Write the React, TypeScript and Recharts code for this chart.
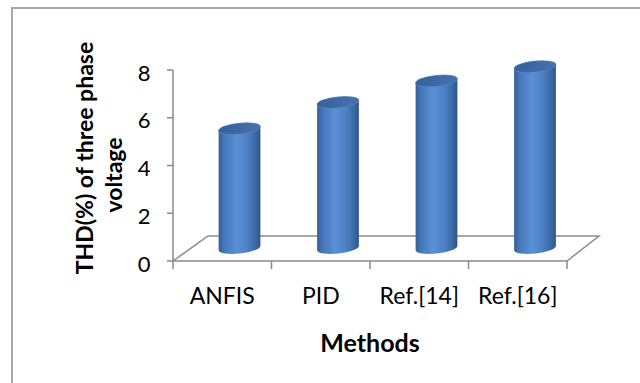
import React from 'react'
import { BarChart, Bar, XAxis, YAxis, ReferenceArea, Label } from 'recharts'

const methods = ['ANFIS', 'PID', 'Ref.[14]', 'Ref.[16]']
const thdValues = [5.0, 6.1, 7.0, 7.6]
const yTicks = [0, 2, 4, 6, 8]

const data = methods.map((name, i) => ({ name, thd: thdValues[i] }))

const FONT = 'Lato, "Open Sans", sans-serif'
const GRAY = '#8a8a8a'

// fake 3D: the floor's back edge sits up and to the right of the x axis
const FLOOR_DX_LEFT = 35
const FLOOR_DX_RIGHT = 32
const FLOOR_DY = 25
// cylinders stand half way into the floor
const BAR_DX = 17.5
const BAR_DY = 13
const CAP_RY = 5.5
const TILT = -6

function Cylinder(props: any) {
  const { x, y, width, height, index } = props
  if (width == null || height == null) return null
  const rx = width / 2
  const cx = x + rx + BAR_DX
  const top = y - BAR_DY
  const bottom = y + height - BAR_DY
  const t = (TILT * Math.PI) / 180
  const ex = rx * Math.cos(t)
  const ey = -rx * Math.sin(t)
  const id = `cyl-body-${index}`
  const capId = `cyl-cap-${index}`
  const body = [
    `M ${cx - ex} ${top + ey}`,
    `L ${cx - ex} ${bottom + ey}`,
    `A ${rx} ${CAP_RY} ${TILT} 0 0 ${cx + ex} ${bottom - ey}`,
    `L ${cx + ex} ${top - ey}`,
    `A ${rx} ${CAP_RY} ${TILT} 0 0 ${cx - ex} ${top + ey}`,
    'Z',
  ].join(' ')
  return (
    <g>
      <defs>
        <linearGradient id={id} x1="0" y1="0" x2="1" y2="0">
          <stop offset="0%" stopColor="#345e99" />
          <stop offset="12%" stopColor="#4475b7" />
          <stop offset="42%" stopColor="#5a90d8" />
          <stop offset="68%" stopColor="#4d81c5" />
          <stop offset="90%" stopColor="#3a679f" />
          <stop offset="100%" stopColor="#2e5587" />
        </linearGradient>
        <linearGradient id={capId} x1="0" y1="0" x2="1" y2="0">
          <stop offset="0%" stopColor="#35609a" />
          <stop offset="100%" stopColor="#4673ae" />
        </linearGradient>
      </defs>
      <path d={body} fill={`url(#${id})`} />
      <ellipse
        cx={cx}
        cy={top}
        rx={rx}
        ry={CAP_RY}
        transform={`rotate(${TILT} ${cx} ${top})`}
        fill={`url(#${capId})`}
        stroke="#5b86c0"
        strokeWidth={0.6}
      />
    </g>
  )
}

function Floor(props: any) {
  const { x, y, width, height } = props
  const y0 = y + height
  const pts = [
    [x, y0],
    [x + FLOOR_DX_LEFT, y0 - FLOOR_DY],
    [x + width + FLOOR_DX_RIGHT, y0 - FLOOR_DY],
    [x + width, y0],
  ]
  return <polyline points={pts.map(p => p.join(',')).join(' ')} fill="none" stroke={GRAY} strokeWidth={1.5} />
}

function XTick(props: any) {
  const { x, y, payload, index, visibleTicksCount, width } = props
  const half = payload?.offset ?? (width && visibleTicksCount ? width / visibleTicksCount / 2 : 49)
  const last = index === visibleTicksCount - 1
  return (
    <g>
      <line x1={x - half} y1={y} x2={x - half} y2={y + 8} stroke={GRAY} strokeWidth={1.5} />
      {last && <line x1={x + half} y1={y} x2={x + half} y2={y + 8} stroke={GRAY} strokeWidth={1.5} />}
      <text x={x} y={y + 43} textAnchor="middle" fontFamily={FONT} fontSize={23} fill="#000">
        {payload.value}
      </text>
    </g>
  )
}

function YTick(props: any) {
  const { x, y, payload } = props
  return (
    <text x={x - 16.5} y={y + 10.5} textAnchor="end" fontFamily={FONT} fontSize={22} fill="#000">
      {payload.value}
    </text>
  )
}

function YTitle(props: any) {
  const vb = props.viewBox || { x: 113, y: 70, width: 60, height: 191 }
  const mid = vb.y + vb.height / 2
  const b1 = vb.x - 20
  const b2 = vb.x + 8.7
  const c1 = mid - 7.5
  const c2 = mid + 9.5
  return (
    <g fontFamily={FONT} fontSize={23} fontWeight="bold" fill="#000">
      <text x={b1} y={c1} textAnchor="middle" transform={`rotate(-90 ${b1} ${c1})`}>
        THD(%) of three phase
      </text>
      <text x={b2} y={c2} textAnchor="middle" transform={`rotate(-90 ${b2} ${c2})`}>
        voltage
      </text>
    </g>
  )
}

function XTitle(props: any) {
  const vb = props.viewBox || { x: 173, y: 261, width: 394, height: 60 }
  return (
    <text x={vb.x + vb.width / 2} y={vb.y + 91} textAnchor="middle" fontFamily={FONT} fontSize={25} fontWeight="bold" fill="#000">
      Methods
    </text>
  )
}

export default function App() {
  return (
    <div style={{ position: 'fixed', left: 0, top: 0, width: 640, height: 383, overflow: 'hidden', background: '#fff' }}>
      <div
        style={{
          position: 'absolute',
          left: 11,
          top: 7,
          width: 660,
          height: 420,
          border: '2px solid #a8a8a8',
          boxSizing: 'border-box',
        }}
      />
      <div style={{ position: 'absolute', left: 0, top: 0 }}>
        <BarChart width={640} height={383} data={data} margin={{ top: 70, right: 73, left: 113, bottom: 62 }}>
          <XAxis
            dataKey="name"
            height={60}
            axisLine={{ stroke: GRAY, strokeWidth: 1.5 }}
            tickLine={false}
            tickSize={0}
            tickMargin={0}
            interval={0}
            tick={<XTick />}
          >
            <Label content={<XTitle />} />
          </XAxis>
          <YAxis
            width={60}
            domain={[0, 8]}
            ticks={yTicks}
            interval={0}
            axisLine={{ stroke: GRAY, strokeWidth: 1.5 }}
            tickLine={{ stroke: GRAY, strokeWidth: 1.5 }}
            tickSize={6}
            tickMargin={0}
            tick={<YTick />}
          >
            <Label content={<YTitle />} />
          </YAxis>
          <ReferenceArea y1={0} y2={8} shape={<Floor />} ifOverflow="visible" />
          <Bar dataKey="thd" barSize={42} shape={<Cylinder />} isAnimationActive={false} />
        </BarChart>
      </div>
    </div>
  )
}
